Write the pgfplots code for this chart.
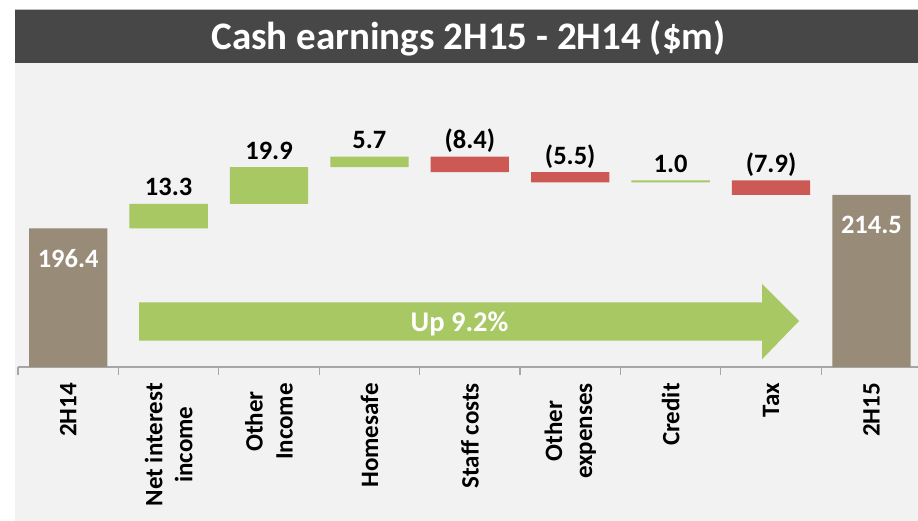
\documentclass[border=0pt]{standalone}
\usepackage{fontspec}
\setmainfont{Carlito}
\usepackage{pgfplots}
\pgfplotsset{compat=1.18}
\definecolor{cgreen}{HTML}{A8C864}
\definecolor{cred}{HTML}{CD5955}
\definecolor{cbrown}{HTML}{988B78}
\definecolor{cbg}{HTML}{F2F2F2}
\definecolor{ctitle}{HTML}{474747}
\definecolor{caxis}{HTML}{A6A6A6}
\begin{document}
\begin{tikzpicture}[x=1pt,y=1pt]
\useasboundingbox (0,0) rectangle (918,521);
\fill[white] (0,0) rectangle (918,521);
\fill[cbg] (15,0) rectangle (918,458);
\fill[ctitle] (15,458) rectangle (918,511);
\draw[black!25, line width=0.8pt] (15,511.6) -- (918,511.6);
\node[white, font=\bfseries\fontsize{39}{42}\selectfont, anchor=base] at (468.5,471) {Cash earnings 2H15 - 2H14 (\$m)};
\fill[cgreen] (139,180.3) -- (762,180.3) -- (762,161.7) -- (799,200) -- (762,237) -- (762,218.7) -- (139,218.7) -- cycle;
\node[white, font=\bfseries\fontsize{28.5}{32}\selectfont, anchor=base] at (459.5,189.3) {Up 9.2\%};
\coordinate (A) at (18pt,154pt);
\begin{axis}[at={(A)}, anchor=south west, scale only axis,
  width=900pt, height=303.6pt,
  xmin=-0.5, xmax=8.464, ymin=121, ymax=286,
  ybar stacked, bar width=0.78,
  axis x line=bottom, hide y axis,
  x axis line style={-, caxis, line width=1.3pt},
  xtick={0,...,8},
  xticklabels={2H14,{Net interest\\income},{Other\\Income},Homesafe,Staff costs,{Other\\expenses},Credit,Tax,2H15},
  minor xtick={-0.5,0.5,...,7.5},
  major tick length=0pt, minor tick length=8pt, tick align=outside,
  minor tick style={caxis, line width=1.3pt},
  xticklabel style={rotate=90, anchor=east, align=center, inner sep=0pt,
    font=\bfseries\fontsize{25}{30}\selectfont},
  xticklabel shift=16pt,
]
\addplot[fill=none, draw=none] coordinates {(0,0) (1,196.4) (2,209.7) (3,229.6) (4,226.9) (5,221.4) (6,221.4) (7,214.5) (8,0)};
\addplot[fill=cbrown, draw=none] coordinates {(0,196.4) (1,0) (2,0) (3,0) (4,0) (5,0) (6,0) (7,0) (8,214.5)};
\addplot[fill=cgreen, draw=none] coordinates {(0,0) (1,13.3) (2,19.9) (3,5.7) (4,0) (5,0) (6,1.0) (7,0) (8,0)};
\addplot[fill=cred, draw=none] coordinates {(0,0) (1,0) (2,0) (3,0) (4,8.4) (5,5.5) (6,0) (7,7.9) (8,0)};
\end{axis}
\begin{axis}[at={(A)}, anchor=south west, scale only axis,
  width=900pt, height=303.6pt,
  xmin=-0.5, xmax=8.464, ymin=121, ymax=286,
  hide axis, clip=false]
\addplot[draw=none, mark=none, nodes near coords, point meta=explicit symbolic,
  nodes near coords style={black, anchor=base, yshift=8pt, font=\bfseries\fontsize{26.5}{30}\selectfont}]
  table[meta=lab] {
x y lab
1 209.7 13.3
2 229.6 19.9
3 235.3 5.7
4 235.3 (8.4)
5 226.9 (5.5)
6 222.4 1.0
7 222.4 (7.9)
};
\addplot[draw=none, mark=none, nodes near coords, point meta=explicit symbolic,
  nodes near coords style={white, anchor=center, yshift=-30pt, font=\bfseries\fontsize{26.5}{30}\selectfont}]
  table[meta=lab] {
x y lab
0 196.4 196.4
8 214.5 214.5
};
\end{axis}
\end{tikzpicture}
\end{document}
